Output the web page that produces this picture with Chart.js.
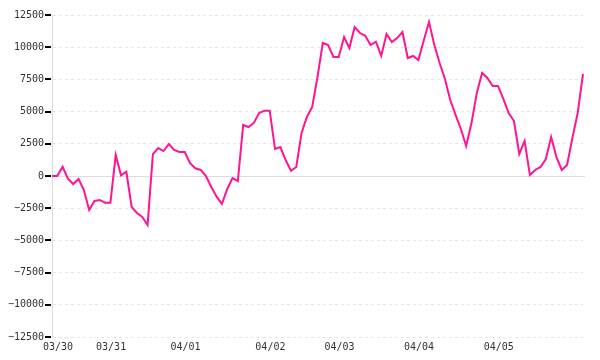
<!DOCTYPE html>
<html>
<head>
<meta charset="utf-8">
<script src="https://cdn.jsdelivr.net/npm/chart.js@4.4.1/dist/chart.umd.min.js"></script>
<style>
  html, body { margin: 0; padding: 0; background: #fff; }
  #wrap { width: 600px; height: 360px; }
</style>
</head>
<body>
<div id="wrap"><canvas id="myChart" width="600" height="360"></canvas></div>
<script>
// day labels and the point index where each day starts
const dayTicks = ["03/30", "03/31", "04/01", "04/02", "04/03", "04/04", "04/05"];
const dayStart = [0, 10, 24, 40, 53, 68, 83];

// series values
const values = [
  0, 0, 720, -200, -620, -230, -1090, -2640, -1940, -1860,
  -2070, -2070, 1630, 50, 330, -2400, -2870, -3180, -3800, 1700,
  2170, 1940, 2480, 2020, 1860, 1860, 1000, 600, 470, 0,
  -850, -1600, -2170, -1010, -160, -390, 3960, 3800, 4120, 4890,
  5070, 5070, 2100, 2250, 1240, 410, 700, 3340, 4580, 5360,
  7690, 10330, 10170, 9240, 9240, 10790, 9940, 11570, 11100, 10890,
  10170, 10430, 9320, 11020, 10400, 10710, 11180, 9160, 9320, 9010,
  10500, 11960, 10170, 8770, 7530, 5900, 4740, 3650, 2330, 4110,
  6440, 8000, 7610, 6990, 6990, 5980, 4890, 4270, 1710, 2720,
  80, 470, 700, 1320, 3030, 1470, 470, 850, 2950, 4890,
  7920
];

const yMin = -12500;
const yMax = 12500;
const yStep = 2500;

// one label per point, only the day starts get text
const labels = values.map(() => "");
dayStart.forEach((idx, i) => { labels[idx] = dayTicks[i]; });

// solid line at zero and small dark tick marks on the y axis
const axisExtras = {
  id: "axisExtras",
  beforeDatasetsDraw(chart) {
    const { ctx, chartArea, scales } = chart;
    const y0 = Math.round(scales.y.getPixelForValue(0)) + 0.5;
    ctx.save();
    ctx.strokeStyle = "#dddddd";
    ctx.lineWidth = 1;
    ctx.beginPath();
    ctx.moveTo(chartArea.left, y0);
    ctx.lineTo(chartArea.right + 2, y0);
    ctx.stroke();
    ctx.restore();
  },
  afterDraw(chart) {
    const { ctx, chartArea, scales } = chart;
    ctx.save();
    ctx.setLineDash([]);
    ctx.strokeStyle = "#000000";
    ctx.lineWidth = 2;
    scales.y.ticks.forEach((t, i) => {
      const y = Math.round(scales.y.getPixelForTick(i));
      ctx.beginPath();
      ctx.moveTo(chartArea.left - 7, y);
      ctx.lineTo(chartArea.left - 1, y);
      ctx.stroke();
    });
    ctx.restore();
  }
};

const ctx = document.getElementById("myChart").getContext("2d");
const chart = new Chart(ctx, {
  type: "line",
  data: {
    labels: labels,
    datasets: [
      {
        data: values,
        borderColor: "#ff1493",
        borderWidth: 2,
        pointRadius: 0,
        fill: false,
        tension: 0,
      },
    ],
  },
  options: {
    responsive: false,
    animation: false,
    layout: {
      padding: { top: 15, right: 17, left: 0, bottom: 0 },
    },
    plugins: {
      legend: { display: false },
      tooltip: { enabled: false },
    },
    scales: {
      x: {
        type: "category",
        offset: false,
        grid: { display: false, drawTicks: false },
        border: { display: false },
        ticks: {
          autoSkip: false,
          maxRotation: 0,
          minRotation: 0,
          padding: 4,
          labelOffset: 6,
          color: "#333",
          font: { family: "DejaVu Sans Mono", size: 10 },
        },
        afterFit: (scale) => { scale.height = 23; },
      },
      y: {
        min: yMin,
        max: yMax,
        grid: {
          color: (c) => (c.tick && c.tick.value === 0 ? "rgba(0,0,0,0)" : "#e6e6e6"),
          drawTicks: false,
        },
        border: { display: true, color: "#dddddd", dash: [3, 3] },
        ticks: {
          stepSize: yStep,
          padding: 8,
          color: "#333",
          font: { family: "DejaVu Sans Mono", size: 10 },
          callback: (v) => (v < 0 ? "\u2212" + Math.abs(v) : String(v)),
        },
        afterFit: (scale) => { scale.width = 52; },
      },
    },
  },
  plugins: [axisExtras],
});
</script>
</body>
</html>
